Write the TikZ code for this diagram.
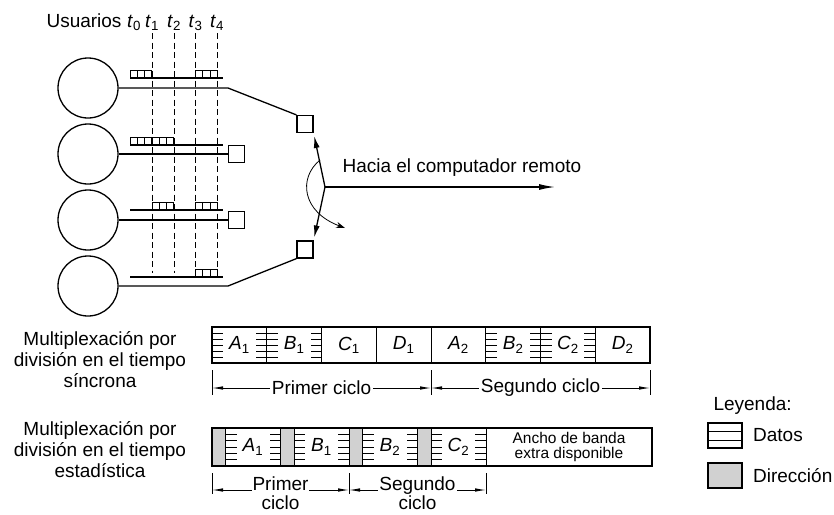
\documentclass[tikz,border=0pt]{standalone}
\usepackage{fontspec}
\setmainfont{Liberation Sans}
\usepackage{tikz}
\usetikzlibrary{arrows.meta,positioning}

\newcommand{\slotname}[2]{\textit{#1}\textsubscript{#2}}
% celdas de cola: x inicial, y de la linea, numero de celdas
\newcommand{\celdas}[3]{%
  \foreach \c in {1,...,#3}{\draw[line width=1pt] (#1+\c*7.33-7.33,#2) rectangle ++(7.33,-7.5);}}

\tikzset{
  user/.style={circle, draw, line width=1.3pt, minimum size=60pt, inner sep=0pt},
  swbox/.style={rectangle, draw, line width=1.2pt, minimum width=16pt, minimum height=17pt, inner sep=0pt},
  wire/.style={line width=1.3pt},
  marca/.style={line width=0.8pt, dash pattern=on 6pt off 3.5pt},
  slot/.style={rectangle, draw, line width=1pt, inner sep=0pt, outer sep=0pt, anchor=west},
  hdr/.style={slot, fill=black!18, minimum width=13.5pt, minimum height=38pt},
  datos/.style={path picture={
      \foreach \f in {1,...,5}{
        \draw[line width=0.8pt] ([yshift=\f*#1]path picture bounding box.south west) -- ++(11pt,0pt);
        \draw[line width=0.8pt] ([yshift=\f*#1]path picture bounding box.south east) -- ++(-11pt,0pt);
      }}},
  datos/.default=6pt,
  vacio/.style={},
  cota/.style={line width=0.8pt, {Latex[length=11pt,width=3.5pt]}-{Latex[length=11pt,width=3.5pt]}},
}

\begin{document}
\begin{tikzpicture}[x=1pt, y=-1pt, font=\fontsize{19}{21}\selectfont]
  \useasboundingbox (0,0) rectangle (834,514);

  % usuarios y instantes
  \node[anchor=base west] (usu) at (43,27) {Usuarios};
  \foreach \i/\x in {0/134,1/152,2/174,3/195.5,4/217}
    \node[anchor=base, inner sep=0pt] (t\i) at (\x,27) {\slotname{t}{\i}};
  \foreach \x in {152,174,195.5,217}
    \draw[marca] (\x,33) -- (\x,273);

  % terminales y lineas
  \foreach \k/\y in {1/88,2/154,3/220,4/286}
    \node[user] (u\k) at (88,\y) {};
  \node[swbox] (s1) at (305,124) {};
  \node[swbox] (s2) at (236.5,154) {};
  \node[swbox] (s3) at (236.5,220) {};
  \node[swbox] (s4) at (305,249.5) {};
  \coordinate (k1) at (228,88);
  \coordinate (k4) at (228,286);
  \draw[wire] (u1) -- (k1) -- (s1.north west);
  \draw[wire] (u2) -- (s2);
  \draw[wire] (u3) -- (s3);
  \draw[wire] (u4) -- (k4) -- (s4.south west);

  % colas
  \foreach \y in {78,145,210,277}
    \draw[line width=1.1pt] (130,\y) -- (223,\y);
  \celdas{130}{78}{3}
  \celdas{195.5}{78}{3}
  \celdas{130}{145}{6}
  \celdas{152}{210}{3}
  \celdas{195.5}{210}{3}
  \celdas{195.5}{277}{3}

  % conmutador
  \coordinate (v) at (325,187);
  \coordinate (fin) at (555,187);
  \coordinate (g0) at (320,160);
  \coordinate (g1) at (345,228);
  \draw[wire, -{Latex[length=12pt,width=6pt]}, shorten >=3pt] (v) -- (s1.south east);
  \draw[wire, -{Latex[length=12pt,width=6pt]}, shorten >=3pt] (v) -- (s4.north east);
  \draw[line width=0.8pt, -{Stealth[length=9pt,width=6pt]}] (g0) .. controls (298,178) and (302,212) .. (g1);
  \draw[wire, -{Latex[length=16pt,width=6pt]}] (v) -- (fin);
  \node[anchor=base west] (hacia) at (339,172) {Hacia el computador remoto};

  % MDT sincrona
  \node[align=center] (sinc) at (100,360) {Multiplexación por\\división en el tiempo\\síncrona};
  \foreach \i/\txt/\tipo in {0/{\slotname{A}{1}}/datos, 1/{\slotname{B}{1}}/datos,
      2/{\slotname{C}{1}}/vacio, 3/{\slotname{D}{1}}/vacio, 4/{\slotname{A}{2}}/vacio,
      5/{\slotname{B}{2}}/datos, 6/{\slotname{C}{2}}/datos, 7/{\slotname{D}{2}}/vacio}
    \node[slot, \tipo, minimum width=54.75pt, minimum height=36pt] (sy\i) at (212+\i*54.75,345) {\txt};
  \draw[line width=1.6pt] (sy0.north west) rectangle (sy7.south east);
  \foreach \x in {212,431,650}
    \draw[line width=0.8pt] (\x,370) -- (\x,395);
  \draw[cota] (212,388) -- node[fill=white, inner xsep=2pt, inner ysep=0pt] (c1) {Primer ciclo} (431,388);
  \draw[cota] (431,388) -- node[fill=white, inner xsep=2pt, inner ysep=0pt] (c2) {Segundo ciclo} (650,388);

  % MDT estadistica
  \node[align=center] (estad) at (100,450) {Multiplexación por\\división en el tiempo\\estadística};
  \node[hdr] (h1) at (212,447) {};
  \node[slot, datos=6.3pt, minimum width=55pt, minimum height=38pt] (e1) at (h1.east) {\slotname{A}{1}};
  \node[hdr] (h2) at (e1.east) {};
  \node[slot, datos=6.3pt, minimum width=55pt, minimum height=38pt] (e2) at (h2.east) {\slotname{B}{1}};
  \node[hdr] (h3) at (e2.east) {};
  \node[slot, datos=6.3pt, minimum width=55pt, minimum height=38pt] (e3) at (h3.east) {\slotname{B}{2}};
  \node[hdr] (h4) at (e3.east) {};
  \node[slot, datos=6.3pt, minimum width=55pt, minimum height=38pt] (e4) at (h4.east) {\slotname{C}{2}};
  \node[slot, minimum width=166pt, minimum height=38pt, align=center,
        font=\fontsize{15.5}{15}\selectfont] (libre) at (e4.east) {Ancho de banda\\extra disponible};
  \draw[line width=1.6pt] (h1.north west) rectangle (libre.south east);
  \foreach \x in {212,349,486}
    \draw[line width=0.8pt] (\x,473) -- (\x,494);
  \draw[cota] (212,490) -- node[fill=white, anchor=base, inner sep=1pt] (c3) {Primer} (349,490);
  \node[anchor=base] (c3b) at (280.5,509) {ciclo};
  \draw[cota] (349,490) -- node[fill=white, anchor=base, inner sep=1pt] (c4) {Segundo} (486,490);
  \node[anchor=base] (c4b) at (417.5,509) {ciclo};

  % leyenda
  \node[anchor=base west] (ley) at (710,410) {Leyenda:};
  \node[draw, line width=1.2pt, minimum width=34pt, minimum height=25pt, inner sep=0pt] (kd) at (725,435.5) {};
  \draw[line width=1pt] ([yshift=8.3pt]kd.south west) -- ([yshift=8.3pt]kd.south east);
  \draw[line width=1pt] ([yshift=16.7pt]kd.south west) -- ([yshift=16.7pt]kd.south east);
  \node[right=7pt of kd] (kdt) {Datos};
  \node[draw, line width=1.2pt, fill=black!18, minimum width=34pt, minimum height=25pt, inner sep=0pt] (kh) at (725,475.5) {};
  \node[right=7pt of kh] (kht) {Dirección};
\end{tikzpicture}
\end{document}
